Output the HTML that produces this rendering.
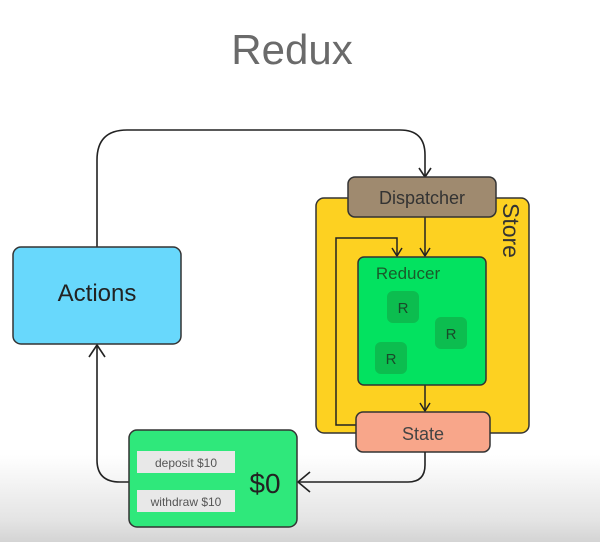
<!DOCTYPE html>
<html><head><style>
html,body{margin:0;padding:0;}
body{width:600px;height:542px;overflow:hidden;background:linear-gradient(to bottom,#fff 0,#fff 455px,#e4e4e4 520px,#d4d4d4 542px);font-family:"Liberation Sans",sans-serif;}
</style></head><body>
<svg width="600" height="542" viewBox="0 0 600 542" xmlns="http://www.w3.org/2000/svg" style="position:absolute;left:0;top:0">
<text x="292" y="64" text-anchor="middle" font-family="Liberation Sans, sans-serif" font-size="42" fill="#6a6a6a">Redux</text>
<g fill="none" stroke="#222" stroke-width="1.6">
<path d="M97 247 V160 Q97 130 127 130 H400 Q425 130 425 155 V176"/>
<path d="M419 168 L425 177 L431 168"/>
<path d="M130 482 H120 Q97 482 97 460 V346"/>
<path d="M89 357 L97 345 L105 357"/>
</g>
<rect x="13" y="247" width="168" height="97" rx="8" fill="#68d8fc" stroke="#333" stroke-width="1.5"/>
<text x="97" y="301" text-anchor="middle" font-size="24" fill="#222">Actions</text>
<rect x="316" y="198" width="213" height="235" rx="8" fill="#fdd121" stroke="#333" stroke-width="1.5"/>
<text transform="translate(503,203) rotate(90)" font-size="23" fill="#333">Store</text>
<g fill="none" stroke="#222" stroke-width="1.5">
<path d="M425 217 V256"/><path d="M420 248 L425 256 L430 248"/>
<path d="M356 425 H336 V238 H397 V256"/><path d="M392 248 L397 256 L402 248"/>
<path d="M425 385 V411"/><path d="M420 403 L425 411 L430 403"/>
</g>
<rect x="348" y="177" width="148" height="40" rx="7" fill="#9f8a6f" stroke="#333" stroke-width="1.5"/>
<text x="422" y="204" text-anchor="middle" font-size="18" fill="#333">Dispatcher</text>
<rect x="358" y="257" width="128" height="128" rx="6" fill="#03e260" stroke="#333" stroke-width="1.5"/>
<text x="408" y="279" text-anchor="middle" font-size="17" fill="#1a5a2a">Reducer</text>
<rect x="387" y="291" width="32" height="32" rx="6" fill="#0cbd4f"/>
<text x="403" y="313" text-anchor="middle" font-size="15" fill="#1a4a2a">R</text>
<rect x="435" y="317" width="32" height="32" rx="6" fill="#0cbd4f"/>
<text x="451" y="339" text-anchor="middle" font-size="15" fill="#1a4a2a">R</text>
<rect x="375" y="342" width="32" height="32" rx="6" fill="#0cbd4f"/>
<text x="391" y="364" text-anchor="middle" font-size="15" fill="#1a4a2a">R</text>
<rect x="356" y="412" width="134" height="40" rx="7" fill="#f8a68a" stroke="#333" stroke-width="1.5"/>
<text x="423" y="440" text-anchor="middle" font-size="18" fill="#444">State</text>
<g fill="none" stroke="#222" stroke-width="1.6">
<path d="M425 452 V465 Q425 482 408 482 H299"/>
<path d="M310 472 L298 482 L310 492"/>
</g>
<rect x="129" y="430" width="168" height="97" rx="8" fill="#2fe87b" stroke="#333" stroke-width="1.5"/>
<rect x="137" y="451" width="98" height="22" fill="#e8e8e8"/>
<text x="186" y="467" text-anchor="middle" font-size="12" fill="#555">deposit $10</text>
<rect x="137" y="490" width="98" height="22" fill="#e8e8e8"/>
<text x="186" y="506" text-anchor="middle" font-size="12" fill="#555">withdraw $10</text>
<text x="265" y="493" text-anchor="middle" font-size="28" fill="#222">$0</text>
</svg>
</body></html>
